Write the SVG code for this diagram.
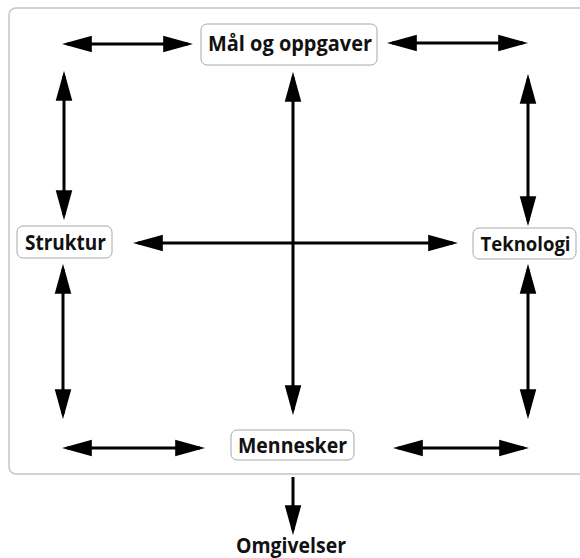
<svg xmlns="http://www.w3.org/2000/svg" width="580" height="558" viewBox="0 0 580 558">
<defs>
<marker id="ah" markerUnits="userSpaceOnUse" markerWidth="30" markerHeight="18" viewBox="0 0 29 16" refX="24" refY="8" orient="auto-start-reverse">
<path d="M0,0 L29,8 L0,16 z" fill="#000"/>
</marker>
<style>
.frame{fill:#fff;stroke:#c4c4c4;stroke-width:1.5}
.box{fill:#fff;stroke:#a8a8a8;stroke-width:1}
.lbl{font-family:"Open Sans","Liberation Sans",sans-serif;font-weight:bold;font-size:22px;fill:#111;text-anchor:middle}
.c{stroke:#000;stroke-width:3;fill:none}
.both{marker-start:url(#ah);marker-end:url(#ah)}
.one{marker-end:url(#ah)}
</style>
</defs>
<rect x="0" y="0" width="580" height="558" fill="#fff"/>
<rect class="frame" x="9" y="8" width="600" height="466" rx="7"/>
<g id="connectors">
<line class="c both" x1="67" y1="44" x2="188" y2="44"/>
<line class="c both" x1="392" y1="43" x2="523" y2="43"/>
<line class="c both" x1="138" y1="243" x2="453" y2="243"/>
<line class="c both" x1="67" y1="448" x2="200" y2="448"/>
<line class="c both" x1="398" y1="448" x2="524" y2="448"/>
<line class="c both" x1="64" y1="76" x2="64" y2="215"/>
<line class="c both" x1="63" y1="269" x2="63" y2="414"/>
<line class="c both" x1="293" y1="77" x2="293" y2="410"/>
<line class="c both" x1="528" y1="79" x2="528" y2="221"/>
<line class="c both" x1="528" y1="269" x2="528" y2="414"/>
<line class="c one" x1="293" y1="477" x2="293" y2="530"/>
</g>
<g id="maal">
<rect class="box" x="201" y="24" width="176" height="41" rx="6"/>
<text class="lbl" x="290" y="51" textLength="164" lengthAdjust="spacingAndGlyphs">Mål og oppgaver</text>
</g>
<g id="struktur">
<rect class="box" x="17" y="226" width="95" height="32" rx="6"/>
<text class="lbl" x="65.5" y="250" textLength="81" lengthAdjust="spacingAndGlyphs">Struktur</text>
</g>
<g id="teknologi">
<rect class="box" x="473" y="228" width="103" height="31" rx="6"/>
<text class="lbl" x="525.5" y="251" style="font-size:20px" textLength="90" lengthAdjust="spacingAndGlyphs">Teknologi</text>
</g>
<g id="mennesker">
<rect class="box" x="231" y="430" width="123" height="30" rx="6"/>
<text class="lbl" x="292.5" y="453" textLength="109" lengthAdjust="spacingAndGlyphs">Mennesker</text>
</g>
<g id="omgivelser">
<text class="lbl" x="291" y="553" textLength="110" lengthAdjust="spacingAndGlyphs">Omgivelser</text>
</g>
</svg>
